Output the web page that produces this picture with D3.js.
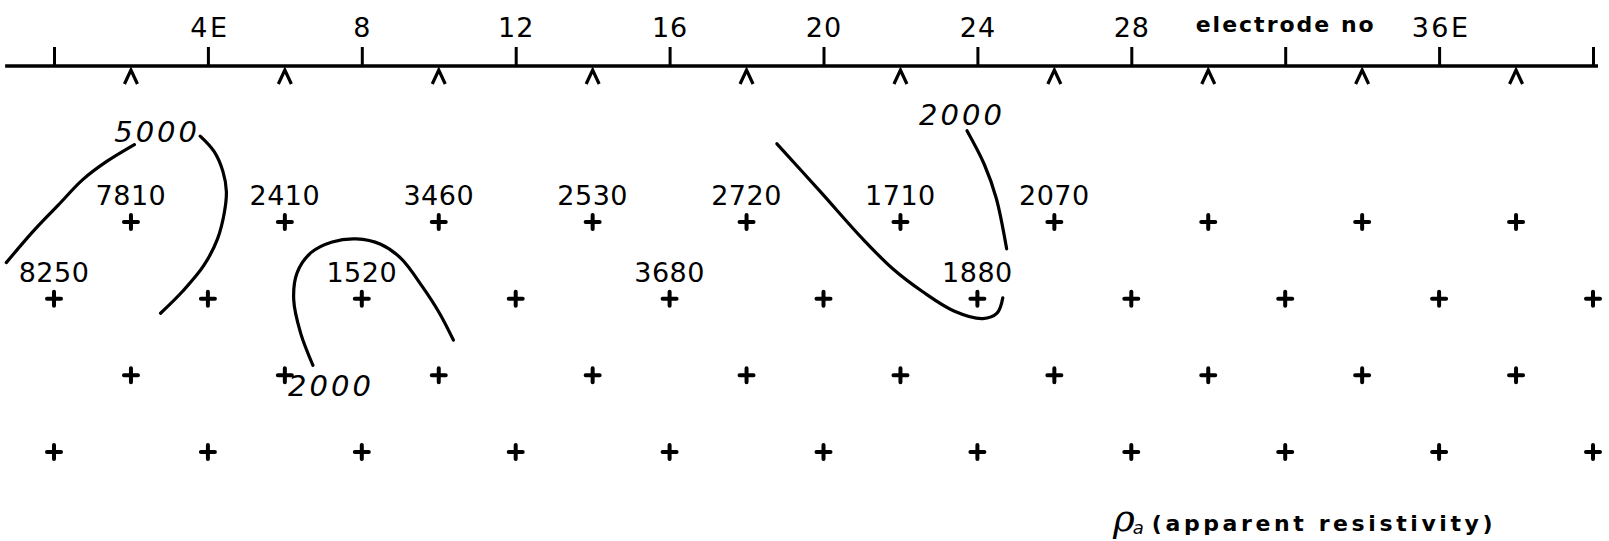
<!DOCTYPE html>
<html>
<head>
<meta charset="utf-8">
<script src="https://cdn.jsdelivr.net/npm/d3@7"></script>
<style>
  body { margin: 0; background: #fff; }
  svg { display: block; }
  text { font-family: "DejaVu Sans", sans-serif; fill: #000; }
</style>
</head>
<body>
<div id="viz-container"></div>
<script>
let w = 1609;
let h = 541;

// electrode axis
const tickValues = [0, 4, 8, 12, 16, 20, 24, 28, 32, 36, 40];
const tickLabels = ["", "4E", "8", "12", "16", "20", "24", "28", "electrode no", "36E", ""];
const caretPositions = [2, 6, 10, 14, 18, 22, 26, 30, 34, 38];

// pseudo-section points (electrode position, level)
const oddRow = [2, 6, 10, 14, 18, 22, 26, 30, 34, 38];
const evenRow = [0, 4, 8, 12, 16, 20, 24, 28, 32, 36, 40];
const levels = [1, 2, 3, 4];
const rhoLevel1 = [7810, 2410, 3460, 2530, 2720, 1710, 2070, null, null, null];
const rhoLevel2 = [8250, null, 1520, null, 3680, null, 1880, null, null, null, null];

// hand drawn contours, [electrode, level]
const contour5000a = [[-1.24, 1.53], [-0.52, 1.11], [0.11, 0.78], [0.74, 0.45], [1.37, 0.21], [2.09, -0.01]];
const contour5000b = [[3.80, -0.12], [4.16, 0.08], [4.39, 0.34], [4.48, 0.60], [4.43, 0.87], [4.25, 1.22], [3.89, 1.57], [3.35, 1.90], [2.77, 2.19]];
const contour2000a = [[6.73, 2.87], [6.41, 2.45], [6.23, 2.01], [6.32, 1.66], [6.68, 1.40], [7.23, 1.26], [7.86, 1.22], [8.49, 1.29], [9.03, 1.48], [9.57, 1.84], [10.02, 2.19], [10.38, 2.54]];
const contour2000b = [[23.73, -0.19], [24.18, 0.25], [24.49, 0.69], [24.76, 1.35]];
const contour2000c = [[18.79, -0.02], [19.93, 0.61], [21.0, 1.21], [21.8, 1.61], [22.58, 1.91], [23.39, 2.16], [24.14, 2.26], [24.51, 2.19], [24.66, 1.99]];
const contourLabels = [
  { e: 2.68, n: -0.04, text: "5000" },
  { e: 7.2, n: 3.27, text: "2000" },
  { e: 23.6, n: -0.26, text: "2000" }
];

let viz = d3.select("#viz-container")
  .append("svg")
  .attr("width", w)
  .attr("height", h);

viz.append("rect").attr("width", w).attr("height", h).attr("fill", "#fff");

let xScale = d3.scaleLinear().domain([0, 40]).range([54, 1593]);
let yScale = d3.scaleLinear().domain([1, 4]).range([222, 452]);
let axisY = 66;

// axis line, a bit longer than the electrode spread
viz.append("line")
  .attr("x1", xScale(-1.27)).attr("x2", xScale(40.13))
  .attr("y1", axisY).attr("y2", axisY)
  .attr("stroke", "#000").attr("stroke-width", 3.4);

let xAxis = d3.axisTop(xScale)
  .tickValues(tickValues)
  .tickSize(19)
  .tickPadding(10)
  .tickFormat((d, i) => tickLabels[i]);

let xAxisGroup = viz.append("g")
  .attr("class", "xaxisgroup")
  .attr("transform", "translate(0," + axisY + ")")
  .call(xAxis);

xAxisGroup.select(".domain").remove();
xAxisGroup.selectAll(".tick line").attr("stroke", "#000").attr("stroke-width", 3);
xAxisGroup.selectAll(".tick text")
  .attr("font-family", "DejaVu Sans")
  .attr("font-size", 27)
  .attr("letter-spacing", 1)
  .attr("fill", "#000");
// the E labels are lettered a bit wider
xAxisGroup.selectAll(".tick text")
  .filter((d, i) => tickLabels[i].endsWith("E"))
  .attr("letter-spacing", 2.5)
  .attr("dx", 1.5);
xAxisGroup.selectAll(".tick text")
  .filter(d => d === 32)
  .attr("font-size", 22)
  .attr("font-weight", "bold")
  .attr("letter-spacing", 2)
  .attr("dy", -5);

// carets under the axis
viz.selectAll(".caret").data(caretPositions).enter()
  .append("path")
  .attr("class", "caret")
  .attr("d", d => "M" + (xScale(d) - 6.5) + "," + (axisY + 18) + "L" + xScale(d) + "," + (axisY + 4) + "L" + (xScale(d) + 6.5) + "," + (axisY + 18))
  .attr("fill", "none")
  .attr("stroke", "#000")
  .attr("stroke-width", 3.2);

// measurement points
let points = [];
levels.forEach(n => {
  let row = n % 2 === 1 ? oddRow : evenRow;
  let vals = n === 1 ? rhoLevel1 : n === 2 ? rhoLevel2 : [];
  row.forEach((e, i) => points.push({ e: e, n: n, value: vals[i] == null ? null : vals[i] }));
});

viz.selectAll(".pt").data(points).enter()
  .append("path")
  .attr("class", "pt")
  .attr("d", d => {
    let x = xScale(d.e), y = yScale(d.n), s = 7;
    return "M" + (x - s) + "," + y + "H" + (x + s) + "M" + x + "," + (y - s) + "V" + (y + s);
  })
  .attr("stroke", "#000")
  .attr("stroke-width", 4)
  .attr("stroke-linecap", "round");

viz.selectAll(".val").data(points.filter(d => d.value != null)).enter()
  .append("text")
  .attr("class", "val")
  .attr("x", d => xScale(d.e))
  .attr("y", d => yScale(d.n) - 17)
  .attr("text-anchor", "middle")
  .attr("font-size", 27)
  .attr("letter-spacing", 0.5)
  .text(d => d.value);

// contours
let line = d3.line()
  .x(d => xScale(d[0]))
  .y(d => yScale(d[1]))
  .curve(d3.curveCatmullRom);

viz.selectAll(".contour")
  .data([contour5000a, contour5000b, contour2000a, contour2000b, contour2000c])
  .enter()
  .append("path")
  .attr("class", "contour")
  .attr("d", line)
  .attr("fill", "none")
  .attr("stroke", "#000")
  .attr("stroke-width", 3.2)
  .attr("stroke-linecap", "round");

viz.selectAll(".clabel").data(contourLabels).enter()
  .append("text")
  .attr("class", "clabel")
  .attr("x", d => xScale(d.e))
  .attr("y", d => yScale(d.n))
  .attr("text-anchor", "middle")
  .attr("font-size", 29)
  .attr("font-style", "italic")
  .attr("letter-spacing", 3)
  .text(d => d.text);

// caption
let cap = viz.append("text")
  .attr("x", 1113)
  .attr("y", 531);
cap.append("tspan")
  .attr("font-family", "DejaVu Serif")
  .attr("font-style", "italic")
  .attr("font-size", 37)
  .text("ρ");
cap.append("tspan")
  .attr("font-style", "italic")
  .attr("font-size", 18)
  .attr("dx", -2)
  .attr("dy", 3)
  .text("a");
cap.append("tspan")
  .attr("dx", 8)
  .attr("dy", -3)
  .attr("font-size", 22)
  .attr("font-weight", "bold")
  .attr("letter-spacing", 3.6)
  .text("(apparent resistivity)");
</script>
</body>
</html>
